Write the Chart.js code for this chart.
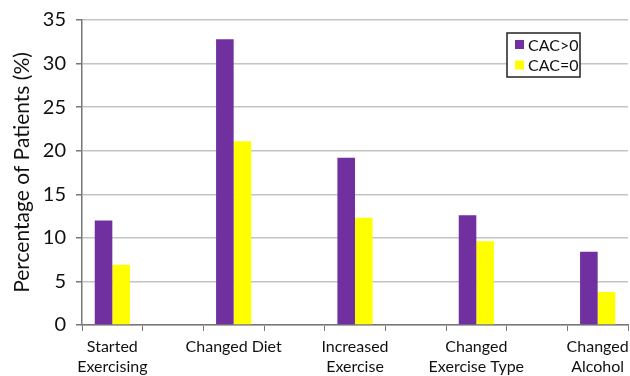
<!DOCTYPE html>
<html>
<head>
<meta charset="UTF-8">
<title></title>
<script src="https://cdn.jsdelivr.net/npm/chart.js@4.4.1/dist/chart.umd.min.js"></script>
<style>
	*{ margin:0; padding:0; }
	html,body{ background:#fff; overflow:hidden; }
	#wrap{ position:relative; width:630px; height:382px; }
</style>
</head>
<body>
<div id="wrap"><canvas id="c"></canvas></div>
<script>
// categories and values
var categories = [["Started","Exercising"], ["Changed Diet"], ["Increased","Exercise"], ["Changed","Exercise Type"], ["Changed","Alcohol"]];
var cacPos = [12.0, 32.8, 19.2, 12.6, 8.4];
var cacZero = [6.9, 21.1, 12.3, 9.6, 3.8];
var seriesNames = ["CAC>0", "CAC=0"];
var yTicks = [0, 5, 10, 15, 20, 25, 30, 35];

var FONT = "Lato, 'Open Sans', sans-serif";

// original chart leaves an empty slot between each pair of categories
function spaced(arr, blank){
	var out = [];
	arr.forEach(function(v, i){
		out.push(v);
		if(i < arr.length - 1) out.push(blank);
	});
	return out;
}

var legendBox = {
	id: "legendBox",
	afterDraw: function(chart){
		var ctx = chart.ctx;
		var x = 507, y = 33, w = 73, h = 44;
		ctx.save();
		ctx.fillStyle = "#fff";
		ctx.fillRect(x, y, w, h);
		ctx.strokeStyle = "#222";
		ctx.lineWidth = 1.5;
		ctx.strokeRect(x, y, w, h);
		ctx.font = "16px " + FONT;
		ctx.textBaseline = "middle";
		chart.data.datasets.forEach(function(ds, i){
			var cy = y + 11.5 + i * 20.5;
			ctx.fillStyle = ds.backgroundColor;
			ctx.fillRect(x + 8, cy - 4.5, 9, 9);
			ctx.fillStyle = "#111";
			ctx.fillText(ds.label, x + 21, cy + 1);
		});
		ctx.restore();
	}
};

new Chart(document.getElementById("c"), {
	type: "bar",
	data: {
		labels: spaced(categories, ""),
		datasets: [
			{ label: seriesNames[0], data: spaced(cacPos, null), backgroundColor: "#7030a0" },
			{ label: seriesNames[1], data: spaced(cacZero, null), backgroundColor: "#ffff00" }
		]
	},
	options: {
		responsive: true,
		maintainAspectRatio: false,
		animation: false,
		layout: { padding: { top: 20, right: 2 } },
		datasets: { bar: { categoryPercentage: 0.58, barPercentage: 1.0 } },
		plugins: { legend: { display: false }, tooltip: { enabled: false } },
		scales: {
			x: {
				grid: { drawOnChartArea: false, color: "#777", tickLength: 6 },
				border: { color: "#777", width: 1.5 },
				ticks: { autoSkip: false, maxRotation: 0, minRotation: 0, color: "#111", padding: 5,
					font: { family: FONT, size: 16, lineHeight: 1.3 } },
				afterFit: function(s){ s.height = 57; s.paddingLeft = 0; s.paddingRight = 0; }
			},
			y: {
				min: 0, max: 35,
				afterBuildTicks: function(s){ s.ticks = yTicks.map(function(v){ return { value: v }; }); },
				grid: { color: "#c4c4c4", lineWidth: 1.5, tickLength: 6, tickColor: "#777" },
				border: { color: "#777", width: 1.5 },
				ticks: { color: "#111", padding: 10, font: { family: FONT, size: 20 } },
				title: { display: true, text: "Percentage of Patients (%)", color: "#111",
					font: { family: FONT, size: 21 }, padding: { top: 10, bottom: 0 } },
				afterFit: function(s){ s.width = 82; s.paddingTop = 0; s.paddingBottom = 0; }
			}
		}
	},
	plugins: [legendBox]
});
</script>
</body>
</html>
